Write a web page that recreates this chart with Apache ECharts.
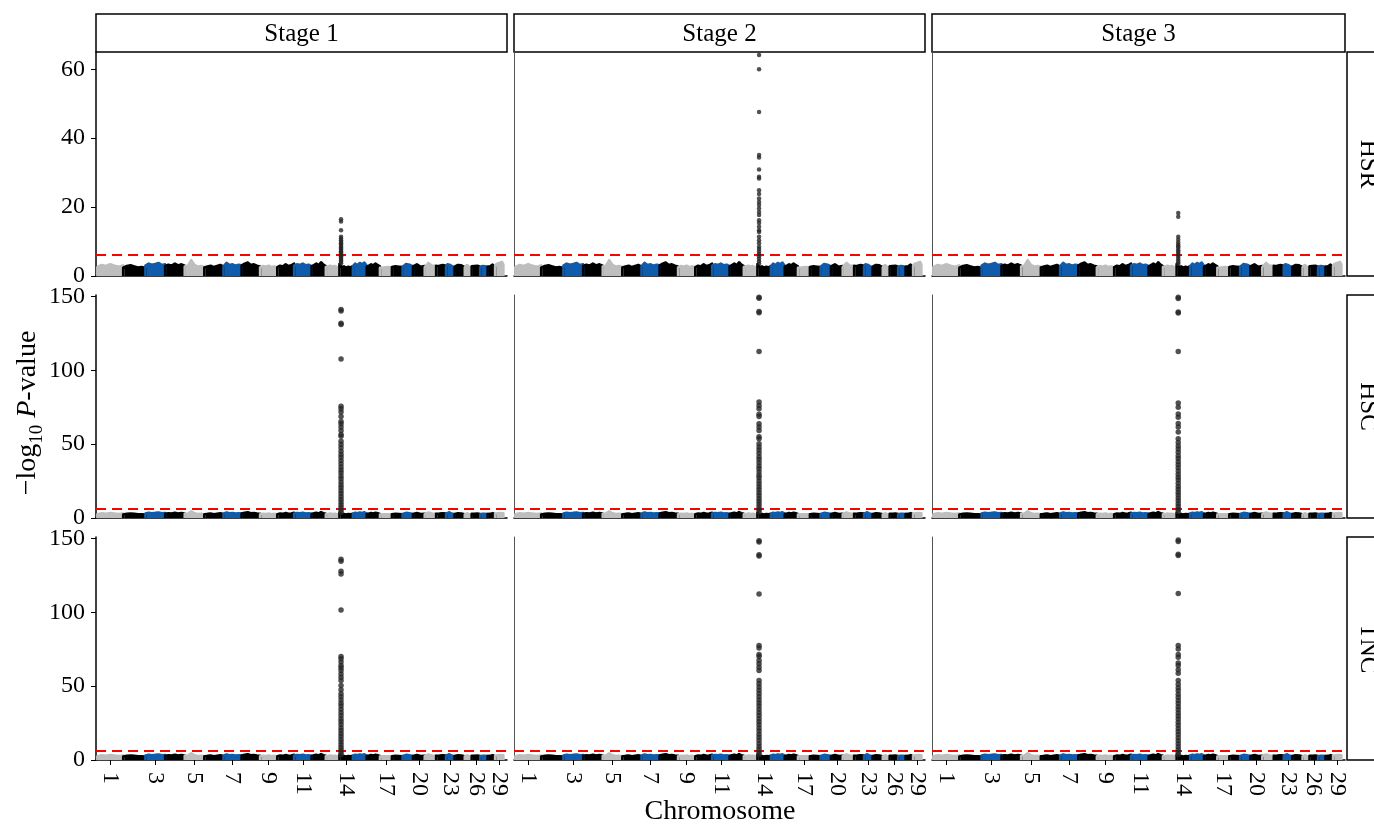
<!DOCTYPE html>
<html>
<head>
<meta charset="utf-8">
<script src="https://cdn.jsdelivr.net/npm/echarts@6/dist/echarts.min.js"></script>
<style>
  html, body { margin: 0; padding: 0; background: #fff; }
  #main { width: 1374px; height: 825px; }
</style>
</head>
<body>
<div id="main"></div>
<script>
// ---- data ----
var stages = ['Stage 1', 'Stage 2', 'Stage 3'];
var traits = ['HSR', 'HSC', 'TNC'];

// chromosome lengths (Mb), chr 1..29
var chrLengths = [158.5, 136.2, 121.0, 120.0, 120.1, 117.8, 110.7, 113.3, 105.5, 103.3,
                  107.0, 87.2, 83.5, 82.4, 85.0, 81.0, 73.2, 65.8, 63.4, 72.0,
                  69.9, 60.8, 52.5, 62.3, 42.4, 52.0, 45.6, 45.9, 51.1];
var chrColors = ['#bebebe', '#000000', '#0f5cad', '#000000'];
var tickChromosomes = [1, 3, 5, 7, 9, 11, 14, 17, 20, 23, 26, 29];

var threshold = 6.08;

// upper edge of the background SNP cloud (-log10 P) along each chromosome
var noiseTop = [
  [2.6, 3.2, 2.9, 3.4, 3.0, 2.7, 3.1],
  [2.4, 2.9, 3.1, 2.8, 2.5, 2.6, 2.3],
  [3.0, 3.6, 3.3, 3.5, 3.8, 3.2, 3.4],
  [2.9, 3.3, 3.0, 3.6, 3.1, 3.4, 3.0],
  [2.8, 3.0, 4.6, 3.2, 2.7, 2.9, 2.6],
  [2.5, 2.8, 3.0, 2.6, 2.9, 3.2, 2.7],
  [2.9, 3.8, 3.2, 3.4, 3.0, 3.3, 3.1],
  [3.0, 3.6, 3.9, 3.2, 3.4, 3.0, 2.8],
  [2.5, 2.9, 2.7, 3.0, 2.6, 2.8, 2.5],
  [2.6, 3.0, 2.8, 3.4, 2.9, 3.1, 3.6],
  [3.0, 3.4, 3.2, 3.6, 3.1, 3.3, 2.9],
  [2.8, 3.2, 3.6, 3.1, 4.0, 3.3, 2.9],
  [2.6, 2.8, 3.0, 2.7, 2.9, 2.5, 2.8],
  [3.5, 2.6, 2.8, 2.4, 2.7, 2.5, 2.9],
  [2.8, 3.6, 3.2, 3.8, 3.4, 3.9, 3.0],
  [2.7, 3.0, 3.4, 3.1, 3.6, 3.2, 2.8],
  [2.4, 2.7, 2.5, 2.9, 2.6, 2.8, 2.5],
  [2.6, 3.0, 2.8, 3.2, 2.7, 2.9, 2.6],
  [2.7, 3.2, 3.5, 3.0, 3.3, 2.9, 2.8],
  [2.8, 3.1, 3.4, 3.0, 2.7, 3.2, 2.9],
  [2.6, 3.0, 3.8, 3.3, 2.9, 2.7, 3.1],
  [2.9, 3.3, 3.0, 3.5, 3.2, 2.8, 3.0],
  [2.8, 3.4, 3.9, 3.2, 3.0, 2.7, 2.6],
  [2.7, 3.0, 3.2, 2.8, 3.1, 2.9, 2.6],
  [2.5, 2.9, 3.2, 2.8, 2.6, 2.7, 2.4],
  [2.8, 3.2, 2.9, 3.4, 3.0, 3.3, 2.7],
  [2.6, 3.1, 2.9, 3.3, 2.8, 3.0, 2.7],
  [2.7, 3.1, 2.8, 3.0, 3.3, 2.9, 2.6],
  [2.9, 3.5, 3.2, 3.8, 3.4, 4.1, 3.3]
];

// significant SNPs at the start of chr14
var peakChromosome = 14;
var peakPosition = 10; // Mb into the chromosome

var peakHSR1 = [16.5, 15.8, 13.3, 11.4, 10.9, 10.4, 9.9, 9.5, 9.1, 8.7, 8.3, 7.9, 7.6, 7.2,
                6.8, 6.5, 6.1, 5.7, 5.3, 4.9, 4.5, 4.1, 3.7];
var peakHSR2 = [64.1, 60.0, 47.6, 35.1, 34.4, 30.9, 28.8, 28.3, 24.9, 23.8, 22.5, 21.5, 20.6,
                19.6, 18.6, 17.7, 16.2, 15.4, 14.3, 13.3, 12.8, 11.4, 10.4, 9.5, 8.5, 7.8,
                7.1, 6.4, 5.7, 5.0, 4.3, 3.6];
var peakHSR3 = [18.3, 17.2, 11.4, 10.5, 9.7, 9.1, 8.6, 8.1, 7.5, 7.0, 6.4, 5.8, 5.2, 4.6, 4.0, 3.5];

var peakHSC1 = [141.2, 140.2, 131.9, 131.0, 107.6, 75.6, 74.0, 71.7, 68.8, 65.4, 63.9, 61.6,
                59.3, 56.6, 55.3, 52.0, 49.7, 47.5, 45.2, 43.0, 41.1, 38.9, 36.8, 34.6, 32.5,
                30.6, 28.4, 26.5, 24.3, 22.4, 20.5, 18.4, 16.6, 14.5, 12.7, 10.8, 9.0, 7.2,
                5.5, 3.9];
var peakHSC2 = [149.5, 148.8, 139.9, 139.0, 112.8, 78.5, 76.2, 74.0, 70.2, 68.8, 63.9, 61.6,
                59.3, 55.0, 53.7, 50.3, 48.1, 46.0, 43.8, 41.5, 39.6, 37.4, 35.2, 33.3, 31.1,
                29.0, 27.2, 25.0, 23.1, 21.0, 19.2, 17.1, 15.3, 13.2, 11.4, 9.5, 7.6, 5.8, 4.1];
var peakHSC3 = [149.4, 148.7, 139.5, 138.8, 112.8, 77.8, 75.0, 70.5, 68.3, 64.0, 61.6, 58.2,
                53.7, 51.2, 48.8, 46.7, 44.5, 42.2, 40.3, 38.1, 36.0, 34.0, 31.8, 29.7, 27.6,
                25.7, 23.5, 21.4, 19.5, 17.4, 15.6, 13.5, 11.7, 9.6, 7.8, 5.9, 4.2];

var peakTNC1 = [136.0, 134.5, 127.8, 126.0, 101.6, 70.0, 68.6, 66.3, 64.0, 62.4, 60.6, 58.3,
                56.0, 53.8, 50.4, 47.6, 44.9, 42.8, 40.6, 38.4, 36.5, 34.3, 32.2, 30.1, 28.0,
                26.1, 24.0, 21.9, 20.0, 17.9, 16.1, 14.0, 12.2, 10.3, 8.5, 6.7, 5.0, 3.6];
var peakTNC2 = [148.5, 147.6, 139.0, 138.2, 112.4, 77.5, 75.9, 71.4, 70.0, 67.3, 65.1, 62.8,
                60.6, 53.8, 51.6, 49.4, 47.2, 45.0, 42.9, 40.7, 38.6, 36.5, 34.4, 32.2, 30.1,
                28.0, 25.9, 23.8, 21.7, 19.6, 17.5, 15.4, 13.3, 11.2, 9.2, 7.2, 5.3, 3.8];
var peakTNC3 = [148.9, 148.0, 139.4, 138.5, 112.8, 77.5, 75.2, 71.4, 69.6, 65.6, 64.0, 61.1,
                58.8, 53.8, 51.3, 49.0, 46.9, 44.6, 42.5, 40.3, 38.2, 36.1, 34.0, 31.9, 29.8,
                27.7, 25.6, 23.5, 21.4, 19.3, 17.2, 15.1, 13.0, 11.0, 9.0, 7.0, 5.2, 3.7];

var yTicksHSR = [0, 20, 40, 60];
var yTicksWide = [0, 50, 100, 150];

// ---- layout ----
var FONT = 'Liberation Serif';
var colLeft = [96, 514, 932];
var colWidth = [411, 411, 413];
var rowTop = [52, 295, 537];
var rowHeight = [224, 223, 223];
var yMax = [65, 151, 151];
var yTicks = [yTicksHSR, yTicksWide, yTicksWide];
var peaks = [[peakHSR1, peakHSR2, peakHSR3], [peakHSC1, peakHSC2, peakHSC3], [peakTNC1, peakTNC2, peakTNC3]];

var offsets = [];
var total = 0;
chrLengths.forEach(function (len) { offsets.push(total); total += len; });
var xMin = -8, xMax = total + 22;

var tickCentres = tickChromosomes.map(function (c) {
  return offsets[c - 1] + chrLengths[c - 1] / 2;
});
// an empty label at the axis end keeps echarts from dropping "26" next to "29"
var labelValues = tickCentres.concat([xMax]);
function chrLabel(v) {
  for (var k = 0; k < tickCentres.length; k++) {
    if (Math.abs(tickCentres[k] - v) < 1e-6) return String(tickChromosomes[k]);
  }
  return '';
}

var grids = [], xAxes = [], yAxes = [], series = [], graphics = [];

traits.forEach(function (trait, r) {
  stages.forEach(function (stage, c) {
    var i = r * 3 + c;
    grids.push({
      left: colLeft[c], top: rowTop[r], width: colWidth[c], height: rowHeight[r],
      containLabel: false, outerBoundsMode: 'none'
    });
    xAxes.push({
      gridIndex: i, type: 'value', min: xMin, max: xMax,
      axisLine: { show: true, onZero: false, lineStyle: { color: '#000', width: 1.5 } },
      splitLine: { show: false },
      axisTick: { show: r === 2, length: 5, customValues: tickCentres, lineStyle: { color: '#000', width: 1 } },
      axisLabel: {
        show: r === 2, customValues: labelValues, rotate: -90, margin: 12,
        hideOverlap: false,
        fontFamily: FONT, fontSize: 24, color: '#000', formatter: chrLabel
      }
    });
    yAxes.push({
      gridIndex: i, type: 'value', min: 0, max: yMax[r],
      axisLine: { show: true, onZero: false, lineStyle: { color: c === 0 ? '#000' : '#555', width: c === 0 ? 1.5 : 1 } },
      splitLine: { show: false },
      axisTick: { show: c === 0, length: 5, customValues: yTicks[r], lineStyle: { color: '#000', width: 1 } },
      axisLabel: {
        show: c === 0, customValues: yTicks[r], margin: 11,
        fontFamily: FONT, fontSize: 24, color: '#000'
      }
    });

    // background SNP cloud, one block per chromosome
    chrLengths.forEach(function (len, k) {
      var prof = noiseTop[k];
      var pts = [[offsets[k], 0]];
      prof.forEach(function (h, j) {
        pts.push([offsets[k] + len * j / (prof.length - 1), h]);
      });
      pts.push([offsets[k] + len, 0]);
      var col = chrColors[k % 4];
      series.push({
        type: 'line', xAxisIndex: i, yAxisIndex: i, data: pts,
        symbol: 'none', silent: true, z: 2,
        lineStyle: { color: col, width: 2.5, join: 'round' },
        areaStyle: { color: col, opacity: 1 }
      });
    });

    var px = offsets[peakChromosome - 1] + peakPosition;
    series.push({
      type: 'scatter', xAxisIndex: i, yAxisIndex: i, clip: false, z: 5,
      symbolSize: r === 0 ? 4.5 : 5.5,
      itemStyle: { color: '#262626' },
      data: peaks[r][c].map(function (v) { return [px, v]; }),
      markLine: {
        silent: true, symbol: 'none', label: { show: false },
        lineStyle: { color: '#ff0000', type: [10, 6], width: 2 },
        data: [{ yAxis: threshold }]
      }
    });
  });

  // right-hand strip
  graphics.push({
    type: 'rect', shape: { x: 1347, y: rowTop[r], width: 50, height: rowHeight[r] },
    style: { fill: '#fff', stroke: '#000', lineWidth: 1.5 }
  });
  graphics.push({
    type: 'text', x: 1368, y: rowTop[r] + rowHeight[r] / 2, rotation: -Math.PI / 2,
    style: { text: trait, fontFamily: FONT, fontSize: 25, fill: '#000', align: 'center', verticalAlign: 'middle' }
  });
});

// top strips
stages.forEach(function (stage, c) {
  graphics.push({
    type: 'rect', shape: { x: colLeft[c], y: 14, width: colWidth[c], height: 38 },
    style: { fill: '#fff', stroke: '#000', lineWidth: 1.5 }
  });
  graphics.push({
    type: 'text', x: colLeft[c] + colWidth[c] / 2, y: 34,
    style: { text: stage, fontFamily: FONT, fontSize: 25, fill: '#000', align: 'center', verticalAlign: 'middle' }
  });
});

// axis titles
graphics.push({
  type: 'text', x: 720, y: 812,
  style: { text: 'Chromosome', fontFamily: FONT, fontSize: 28, fill: '#000', align: 'center', verticalAlign: 'middle' }
});
graphics.push({
  type: 'text', x: 30, y: 413, rotation: Math.PI / 2,
  style: {
    text: '{n|\u2212log}{s|10}{n| }{i|P}{n|-value}',
    fill: '#000', align: 'center', verticalAlign: 'middle',
    rich: {
      n: { fontFamily: FONT, fontSize: 28, fill: '#000', padding: [0, 0, 5, 0], verticalAlign: 'bottom' },
      i: { fontFamily: FONT, fontSize: 28, fontStyle: 'italic', fill: '#000', padding: [0, 0, 5, 0], verticalAlign: 'bottom' },
      s: { fontFamily: FONT, fontSize: 19, fill: '#000', verticalAlign: 'bottom' }
    }
  }
});

var chart = echarts.init(document.getElementById('main'), null, { renderer: 'canvas' });
chart.setOption({
  animation: false,
  backgroundColor: '#fff',
  grid: grids,
  xAxis: xAxes,
  yAxis: yAxes,
  series: series,
  graphic: graphics
});
</script>
</body>
</html>
